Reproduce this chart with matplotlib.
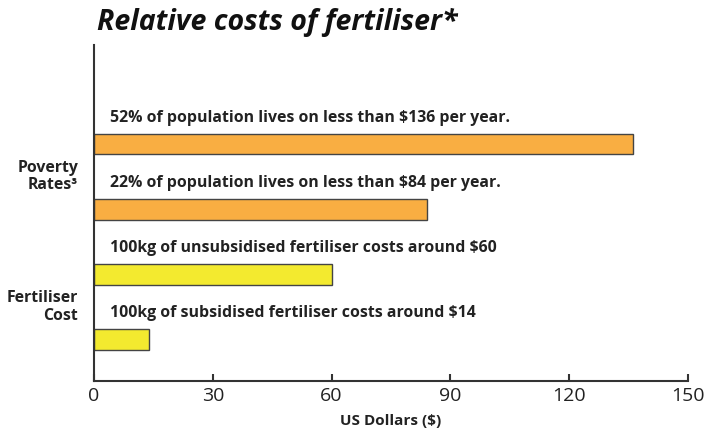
import matplotlib.pyplot as plt

# Dados
valores = [14, 60, 84, 136]
rotulos = [
    "100kg of subsidised fertiliser costs around $14",
    "100kg of unsubsidised fertiliser costs around $60",
    "22% of population lives on less than $84 per year.",
    "52% of population lives on less than $136 per year.",
]
cores = ["#F3EA2F", "#F3EA2F", "#F9AE42", "#F9AE42"]
grupos = ["Fertiliser\nCost", "Poverty\nRates³"]
grupo_pos = [0.5, 2.5]
xticks = [0, 30, 60, 90, 120, 150]

plt.rcParams['font.family'] = ['Open Sans', 'DejaVu Sans']

fig = plt.figure(figsize=(7.06, 4.34), dpi=100)
ax = fig.add_axes([0.1331, 0.1221, 0.8414, 0.7742])

pos = list(range(len(valores)))
ax.barh(pos, valores, height=0.32, color=cores, edgecolor='#444444', linewidth=1)

for p, txt in zip(pos, rotulos):
    ax.text(4, p + 0.40, txt, fontsize=11.4, fontweight='bold', color='#222222',
            va='center', ha='left')

for p, g in zip(grupo_pos, grupos):
    ax.text(-4, p, g, fontsize=11.4, fontweight='bold', color='#222222',
            va='center', ha='right', linespacing=1.15)

ax.set_xlim(0, 150)
ax.set_ylim(-0.64, 4.52)
ax.set_xticks(xticks)
ax.set_yticks([])
ax.tick_params(axis='x', direction='in', length=5, width=1.5, color='#333333',
               labelsize=14, labelcolor='#222222', pad=4)
for s in ['top', 'right']:
    ax.spines[s].set_visible(False)
for s in ['left', 'bottom']:
    ax.spines[s].set_color('#333333')
    ax.spines[s].set_linewidth(1.5)

ax.set_xlabel('US Dollars ($)', fontsize=11, fontweight='bold', color='#222222', labelpad=7)

fig.text(0.137, 0.948, 'Relative costs of fertiliser*', fontsize=20.5, fontweight='bold',
         style='italic', color='#111111', va='center', ha='left')

plt.savefig('out.png', dpi=100)
